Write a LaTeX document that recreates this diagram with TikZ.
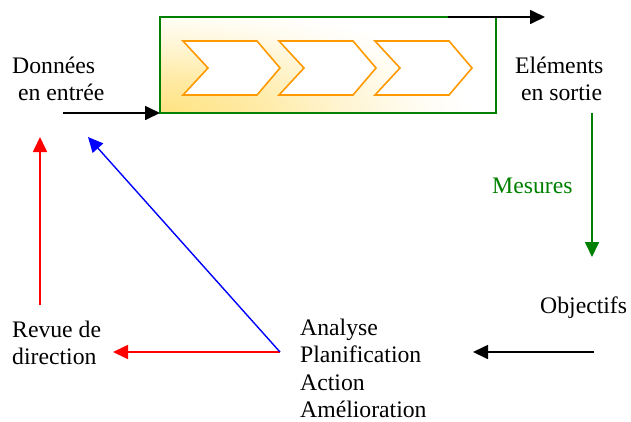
\documentclass[tikz,border=0pt]{standalone}
\usepackage{fontspec}
\setmainfont{Liberation Serif}
\newfontfamily\tms{Liberation Serif}
\usetikzlibrary{arrows.meta}
\definecolor{grn}{RGB}{0,128,0}
\definecolor{org}{RGB}{255,153,0}
\definecolor{ylw}{RGB}{255,226,128}
\colorlet{ylwA}{ylw!70!white}
\colorlet{ylwB}{ylw!35!white}
\colorlet{ylwC}{ylw!10!white}
\pgfdeclareradialshading{yfade}{\pgfpoint{0bp}{0bp}}{color(0bp)=(ylw); color(4bp)=(ylwA); color(7.5bp)=(ylwB); color(10.5bp)=(ylwC); color(12.5bp)=(white); color(50bp)=(white)}
\begin{document}
\begin{tikzpicture}[x=1pt,y=-1pt,
  lbl/.style={inner sep=0pt, anchor=base west, font=\tms\fontsize{23.7}{27.5}\selectfont},
  arr/.style={line width=1.7pt, -{Triangle[length=15pt,width=14pt]}},
  chev/.style={draw=org, fill=white, line width=1.6pt, line join=miter}]
\useasboundingbox (0,0) rectangle (631,421);
% process box
\node[draw=grn, line width=1.6pt, minimum width=336pt, minimum height=96pt, inner sep=0pt, outer sep=0pt,
      anchor=north west, fill=white,
      path picture={\shade[shading=yfade]
        (path picture bounding box.south west) ellipse [x radius=620pt, y radius=220pt];}] (proc) at (160,17) {};
% chevrons
\foreach \o in {0,96,192}{
  \draw[chev] (183+\o,41) -- (257+\o,41) -- (280+\o,68) -- (257+\o,95) -- (183+\o,95) -- (208+\o,68) -- cycle;
}
% labels
\node[lbl] (in) at (12,73) {\begin{tabular}[t]{@{}l@{}}Données\\\hspace*{0.25em}en entrée\end{tabular}};
\node[lbl] (out) at (515,73) {\begin{tabular}[t]{@{}l@{}}Eléments\\\hspace*{0.25em}en sortie\end{tabular}};
\node[lbl, text=grn] (mes) at (492,193) {Mesures};
\node[lbl] (obj) at (540,313) {Objectifs};
\node[lbl] (rev) at (12,337) {\begin{tabular}[t]{@{}l@{}}Revue de\\direction\end{tabular}};
\node[lbl] (ana) at (300,335) {\begin{tabular}[t]{@{}l@{}}Analyse\\Planification\\Action\\Amélioration\end{tabular}};
% connector ends
\coordinate (inS) at (63,113);
\coordinate (outS) at (448,17);
\coordinate (outE) at (545,17);
\coordinate (mesS) at (592,113);
\coordinate (mesE) at (592,257);
\coordinate (objS) at (594,352);
\coordinate (objE) at (473,352);
\coordinate (anaS) at (280,352);
\coordinate (revE) at (113,352);
\coordinate (blueE) at (88,137);
\coordinate (redS) at (40,305);
\coordinate (redE) at (40,137);
% connectors
\draw[arr] (inS) -- (proc.south west);
\draw[arr] (outS) -- (outE);
\draw[arr, draw=grn, fill=grn] (mesS) -- (mesE);
\draw[arr] (objS) -- (objE);
\draw[arr, red] (anaS) -- (revE);
\draw[arr, blue, line width=1.4pt] (anaS) -- (blueE);
\draw[arr, red] (redS) -- (redE);
\end{tikzpicture}
\end{document}
